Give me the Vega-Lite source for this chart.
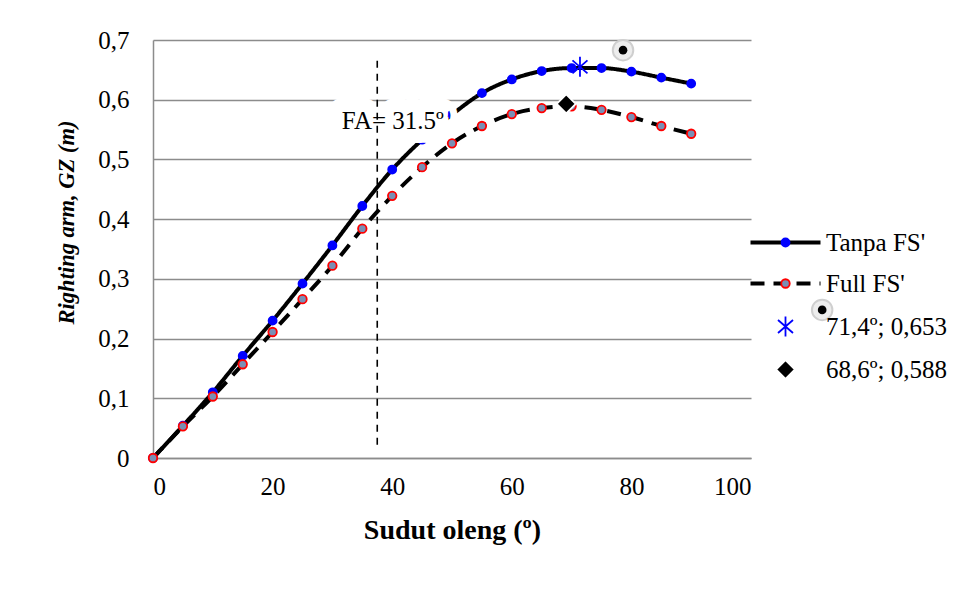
{
  "$schema": "https://vega.github.io/schema/vega-lite/v6.json",
  "width": 598,
  "height": 418,
  "autosize": {"type": "none"},
  "padding": {"left": 153, "top": 40, "right": 204, "bottom": 135},
  "background": "white",
  "config": {
    "view": {"stroke": null},
    "font": "Liberation Serif",
    "axis": {
      "domainColor": "#8c8c8c",
      "domainWidth": 1.5,
      "gridColor": "#8c8c8c",
      "gridWidth": 1.5,
      "ticks": false,
      "labelFont": "Liberation Serif",
      "labelFontSize": 25,
      "labelColor": "black",
      "titleFont": "Liberation Serif",
      "titleColor": "black",
      "titleFontWeight": "bold"
    },
    "legend": {
      "orient": "none",
      "legendX": 620,
      "legendY": 190,
      "padding": 0,
      "labelFont": "Liberation Serif",
      "labelFontSize": 25,
      "labelColor": "black",
      "rowPadding": 15,
      "labelOffset": 28,
      "symbolSize": 100
    }
  },
  "datasets": {
    "gz": [
      {"angle": 0, "gz": 0, "series": "Tanpa FS'"},
      {"angle": 5, "gz": 0.054, "series": "Tanpa FS'"},
      {"angle": 10, "gz": 0.110, "series": "Tanpa FS'"},
      {"angle": 15, "gz": 0.171, "series": "Tanpa FS'"},
      {"angle": 20, "gz": 0.230, "series": "Tanpa FS'"},
      {"angle": 25, "gz": 0.292, "series": "Tanpa FS'"},
      {"angle": 30, "gz": 0.356, "series": "Tanpa FS'"},
      {"angle": 35, "gz": 0.422, "series": "Tanpa FS'"},
      {"angle": 40, "gz": 0.483, "series": "Tanpa FS'"},
      {"angle": 45, "gz": 0.533, "series": "Tanpa FS'"},
      {"angle": 50, "gz": 0.575, "series": "Tanpa FS'"},
      {"angle": 55, "gz": 0.611, "series": "Tanpa FS'"},
      {"angle": 60, "gz": 0.634, "series": "Tanpa FS'"},
      {"angle": 65, "gz": 0.648, "series": "Tanpa FS'"},
      {"angle": 70, "gz": 0.653, "series": "Tanpa FS'"},
      {"angle": 75, "gz": 0.653, "series": "Tanpa FS'"},
      {"angle": 80, "gz": 0.647, "series": "Tanpa FS'"},
      {"angle": 85, "gz": 0.637, "series": "Tanpa FS'"},
      {"angle": 90, "gz": 0.627, "series": "Tanpa FS'"},
      {"angle": 0, "gz": 0, "series": "Full FS'"},
      {"angle": 5, "gz": 0.053, "series": "Full FS'"},
      {"angle": 10, "gz": 0.103, "series": "Full FS'"},
      {"angle": 15, "gz": 0.157, "series": "Full FS'"},
      {"angle": 20, "gz": 0.211, "series": "Full FS'"},
      {"angle": 25, "gz": 0.266, "series": "Full FS'"},
      {"angle": 30, "gz": 0.322, "series": "Full FS'"},
      {"angle": 35, "gz": 0.384, "series": "Full FS'"},
      {"angle": 40, "gz": 0.439, "series": "Full FS'"},
      {"angle": 45, "gz": 0.487, "series": "Full FS'"},
      {"angle": 50, "gz": 0.527, "series": "Full FS'"},
      {"angle": 55, "gz": 0.556, "series": "Full FS'"},
      {"angle": 60, "gz": 0.576, "series": "Full FS'"},
      {"angle": 65, "gz": 0.586, "series": "Full FS'"},
      {"angle": 70, "gz": 0.589, "series": "Full FS'"},
      {"angle": 75, "gz": 0.583, "series": "Full FS'"},
      {"angle": 80, "gz": 0.571, "series": "Full FS'"},
      {"angle": 85, "gz": 0.556, "series": "Full FS'"},
      {"angle": 90, "gz": 0.543, "series": "Full FS'"},
      {"angle": 71.4, "gz": 0.655, "series": "71,4º; 0,653"},
      {"angle": 69.1, "gz": 0.593, "series": "68,6º; 0,588"}
    ],
    "rule": [{"angle": 37.5, "gz": 0.022, "gz2": 0.67}],
    "fa": [{"angle": 40.1, "gz": 0.564, "label": "FA= 31.5º"}],
    "blob": [
      {"angle": 78.6, "gz": 0.683},
      {"angle": 111.9, "gz": 0.248}
    ]
  },
  "encoding": {
    "x": {
      "field": "angle",
      "type": "quantitative",
      "scale": {"domain": [0, 100], "nice": false},
      "title": "Sudut oleng (º)",
      "axis": {"values": [0, 20, 40, 60, 80, 100], "grid": false, "labelPadding": 16, "titlePadding": 17, "titleFontSize": 28}
    },
    "y": {
      "field": "gz",
      "type": "quantitative",
      "scale": {"domain": [0, 0.7], "nice": false},
      "title": "Righting arm, GZ (m)",
      "axis": {
        "values": [0, 0.1, 0.2, 0.3, 0.4, 0.5, 0.6, 0.7],
        "grid": true,
        "labelPadding": 24,
        "titlePadding": 19,
        "titleFontSize": 22.5,
        "titleY": 182,
        "titleFontStyle": "italic",
        "labelExpr": "datum.value == 0 ? '0' : replace(format(datum.value, '.1f'), '.', ',')"
      }
    }
  },
  "layer": [
    {
      "data": {"name": "gz"},
      "transform": [{"filter": {"field": "series", "oneOf": ["Tanpa FS'", "Full FS'"]}}],
      "mark": {"type": "line", "color": "black", "strokeWidth": 4, "interpolate": "monotone"},
      "encoding": {
        "strokeDash": {
          "field": "series",
          "type": "nominal",
          "scale": {"domain": ["Tanpa FS'", "Full FS'"], "range": [[1, 0], [14, 9]]},
          "legend": {"title": null, "symbolType": "M-7,0H7", "symbolStrokeColor": "black", "symbolStrokeWidth": 4, "labelOpacity": 0, "zindex": 0}
        }
      }
    },
    {
      "data": {"name": "gz"},
      "mark": {"type": "point", "filled": true, "opacity": 1, "size": 100, "strokeWidth": 1.8},
      "encoding": {
        "fill": {
          "field": "series",
          "type": "nominal",
          "scale": {"domain": ["Tanpa FS'", "Full FS'", "71,4º; 0,653", "68,6º; 0,588"], "range": ["#0000ff", "#7a8fb5", "transparent", "black"]},
          "legend": {"title": null, "zindex": 1, "symbolStrokeWidth": 1.8}
        },
        "stroke": {
          "field": "series",
          "type": "nominal",
          "scale": {"domain": ["Tanpa FS'", "Full FS'", "71,4º; 0,653", "68,6º; 0,588"], "range": ["#0000ff", "#ff0000", "#0000ff", "white"]},
          "legend": {"title": null, "zindex": 1, "symbolStrokeWidth": 1.8}
        },
        "shape": {
          "field": "series",
          "type": "nominal",
          "scale": {"domain": ["Tanpa FS'", "Full FS'", "71,4º; 0,653", "68,6º; 0,588"], "range": ["M0.8,0A0.8,0.8,0,1,1,-0.8,0A0.8,0.8,0,1,1,0.8,0Z", "M0.85,0A0.85,0.85,0,1,1,-0.85,0A0.85,0.85,0,1,1,0.85,0Z", "M0,-2V2M-1.5,-1.3L1.5,1.3M-1.5,1.3L1.5,-1.3", "M0,-1.9L1.9,0L0,1.9L-1.9,0Z"]},
          "legend": {"title": null, "zindex": 1, "symbolStrokeWidth": 1.8}
        }
      }
    },
    {
      "data": {"name": "fa"},
      "mark": {"type": "text", "font": "Liberation Serif", "fontSize": 25, "fill": "white", "stroke": "white", "strokeWidth": 28, "strokeJoin": "round", "align": "center", "baseline": "middle"},
      "encoding": {"text": {"field": "label"}}
    },
    {
      "data": {"name": "rule"},
      "mark": {"type": "rule", "color": "black", "strokeWidth": 1.6, "strokeDash": [7, 6]},
      "encoding": {"y2": {"field": "gz2"}}
    },
    {
      "data": {"name": "fa"},
      "mark": {"type": "text", "font": "Liberation Serif", "fontSize": 25, "color": "black", "align": "center", "baseline": "middle"},
      "encoding": {"text": {"field": "label"}}
    },
    {
      "data": {"name": "blob"},
      "mark": {"type": "point", "filled": true, "opacity": 1, "shape": "circle", "size": 420, "fill": "#ededed", "stroke": "#cfcfcf", "strokeWidth": 2, "clip": false}
    },
    {
      "data": {"name": "blob"},
      "mark": {"type": "point", "filled": true, "opacity": 1, "shape": "circle", "size": 75, "color": "black", "clip": false}
    }
  ]
}
